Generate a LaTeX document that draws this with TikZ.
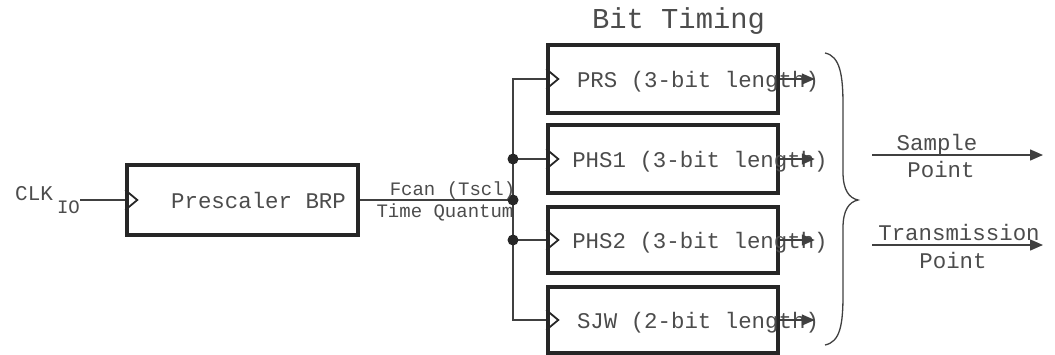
\documentclass[tikz,border=0pt]{standalone}
\usepackage{fontspec}
\setmonofont{Liberation Mono}
\usetikzlibrary{arrows.meta}

\tikzset{
  blk/.style={draw=black!85, line width=3.5pt, minimum width=230pt, minimum height=68pt, inner sep=0pt},
  wire/.style={draw=black!75, line width=1.5pt},
  outarr/.style={wire, -{Triangle[length=13pt,width=11pt]}},
  lbl/.style={font=\ttfamily\fontsize{22.4}{26}\selectfont, text=black!70, inner sep=0pt},
  small/.style={lbl, font=\ttfamily\fontsize{19}{22}\selectfont},
  clock/.style={draw=black!85, line width=1.8pt}
}

\begin{document}
\begin{tikzpicture}[x=1pt, y=-1pt]
\useasboundingbox (0,0) rectangle (1055,354);

% prescaler
\node[blk, minimum width=231pt, minimum height=70pt] (pre) at (242.5,200) {};
\node[lbl, anchor=base] (pretxt) at ([shift={(16,8)}]pre.center) {Prescaler BRP};
\node[lbl, font=\ttfamily\fontsize{21}{24}\selectfont, anchor=base west] (clk) at (15,200)
  {CLK\hspace{4pt}\raisebox{-13pt}{\fontsize{19}{22}\selectfont IO}};
\draw[wire] (pre.west -| clk.east) -- (pre.west);

% bit timing blocks
\node[lbl, font=\ttfamily\fontsize{28.8}{32}\selectfont, anchor=base] (bt) at (678.5,28) {Bit Timing};
\node[blk] (prs) at (663,79) {};
\node[blk] (phs1) at (663,159) {};
\node[blk, minimum height=66pt] (phs2) at (663,240) {};
\node[blk, minimum height=66pt] (sjw) at (663,320) {};
\node[lbl, anchor=base] (prstxt) at ([shift={(35,8)}]prs.center) {PRS (3-bit length)};
\node[lbl, anchor=base] (phs1txt) at ([shift={(37,8)}]phs1.center) {PHS1 (3-bit length)};
\node[lbl, anchor=base] (phs2txt) at ([shift={(37,8)}]phs2.center) {PHS2 (3-bit length)};
\node[lbl, anchor=base] (sjwtxt) at ([shift={(35,8)}]sjw.center) {SJW (2-bit length)};

\foreach \b in {pre,prs,phs1,phs2,sjw}
  \draw[clock] ([yshift=-10pt]\b.west) -- ([xshift=12pt]\b.west) -- ([yshift=10pt]\b.west);

% time quantum bus
\coordinate (tq) at (513,200);
\coordinate (tq1) at (513,159);
\coordinate (tq2) at (513,240);
\draw[wire] (pre.east) -- (tq);
\draw[wire] (tq) |- (prs.west);
\draw[wire] (tq) |- (sjw.west);
\draw[wire] (tq1) -- (phs1.west);
\draw[wire] (tq2) -- (phs2.west);
\foreach \p in {tq,tq1,tq2}
  \fill[black!85] (\p) circle (5.5pt);
\node[small, anchor=base] (fcan) at (452.5,195) {Fcan (Tscl)};
\node[small, anchor=base] (tquant) at (445,217) {Time Quantum};

% block outputs
\foreach \b in {prs,phs1,phs2,sjw}
  \draw[outarr] (\b.east) -- ++(35,0);

% brace
\draw[black!75, line width=1.3pt] (825,53) .. controls (840,56) and (843,75) .. (843,105) -- (843,172)
  .. controls (843,190) and (849,198) .. (858,200) .. controls (849,202) and (843,210) .. (843,228)
  -- (843,295) .. controls (843,325) and (840,342) .. (825,345);

% sample / transmission point
\coordinate (sp0) at (872,155);
\coordinate (sp1) at (1043,155);
\coordinate (tp0) at (872,245);
\coordinate (tp1) at (1043,245);
\draw[outarr] (sp0) -- (sp1);
\draw[outarr] (tp0) -- (tp1);
\node[lbl, anchor=base] (sample) at (937,150) {Sample};
\node[lbl, anchor=base] (spoint) at (941,177) {Point};
\node[lbl, anchor=base] (trans) at (959,240) {Transmission};
\node[lbl, anchor=base] (tpoint) at (953,268) {Point};
\end{tikzpicture}
\end{document}
